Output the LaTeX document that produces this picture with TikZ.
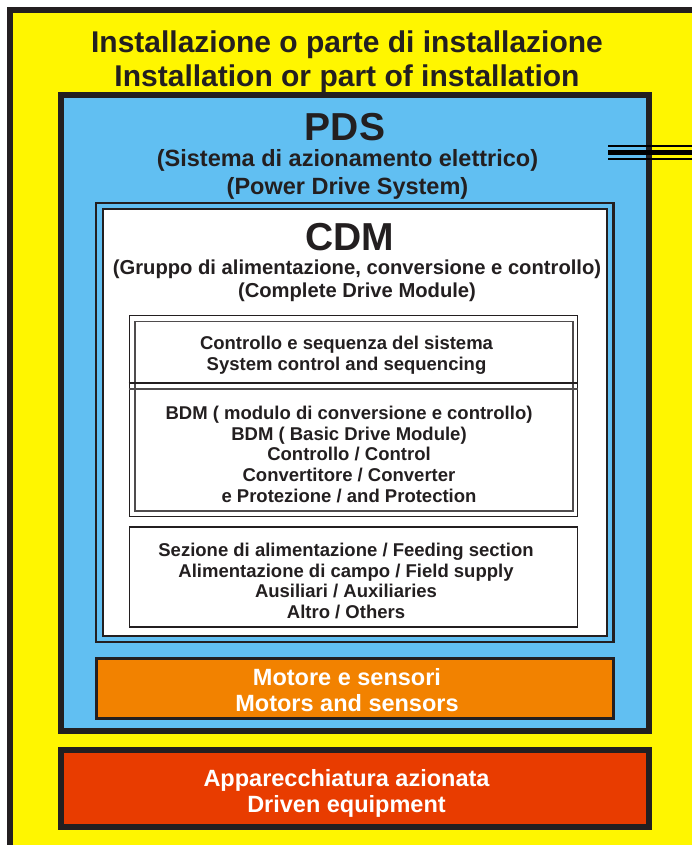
\documentclass[tikz,border=0pt]{standalone}
\usepackage{fontspec}
\setmainfont{Liberation Sans}
\definecolor{ink}{RGB}{35,31,32}
\definecolor{plantyellow}{RGB}{255,246,0}
\definecolor{pdsblue}{RGB}{97,191,242}
\definecolor{motororange}{RGB}{242,130,0}
\definecolor{drivenred}{RGB}{232,60,0}

\begin{document}
\begin{tikzpicture}[
			x=1pt,y=-1pt,
			frame/.style={
				draw=ink,
				rectangle,
				inner sep=0pt
			},
			heavybox/.style={
				frame,
				line width=6.4pt
			},
			thinbox/.style={
				frame,
				line width=2pt
			},
			label/.style={
				align=center,
				anchor=base,
				inner sep=0pt,
				text=ink
			},
			title/.style={
				label,
				font=\bfseries\fontsize{30}{34.5}\selectfont
			},
			bighead/.style={
				label,
				font=\bfseries\fontsize{39}{44}\selectfont
			},
			subhead/.style={
				label,
				font=\bfseries\fontsize{23.5}{28}\selectfont
			},
			cdmhead/.style={
				label,
				font=\bfseries\fontsize{20.2}{23}\selectfont
			},
			smalltext/.style={
				label,
				font=\bfseries\fontsize{18.5}{20.7}\selectfont
			},
			boxtext/.style={
				label,
				text=white,
				font=\bfseries\fontsize{23.5}{26}\selectfont
			},
			bus/.style={
				draw=black,
				line cap=butt
			}
			]
			
			\useasboundingbox (0,0) rectangle (692,845);
			\clip (0,0) rectangle (692,845);
			
			% Installation
			\node[frame,line width=5.7pt,fill=plantyellow,
			minimum width=710pt,minimum height=870pt] (install) at (364.9,444.9) {};
			
			% PDS
			\node[heavybox,fill=pdsblue,
			minimum width=587.5pt,minimum height=635.5pt] (pds) at (355,413) {};
			
			% CDM (double frame)
			\node[frame,line width=2.2pt,fill=pdsblue,
			minimum width=517.5pt,minimum height=439pt] (cdm) at (354.75,422.5) {};
			\node[thinbox,fill=white,
			minimum width=504pt,minimum height=427pt] (cdminner) at (355,422.5) {};
			
			% Control and BDM
			\node[frame,line width=1.8pt,
			minimum width=448pt,minimum height=201pt] (bdm) at (353.5,416) {};
			\node[frame,line width=1.5pt,draw=ink!80,
			minimum width=438pt,minimum height=189.5pt] (bdminner) at (354,416.25) {};
			\draw[line width=1.5pt,draw=ink] (bdm.west |- 0,383) -- (bdm.east |- 0,383);
			\draw[line width=1.5pt,draw=ink!80] (bdm.west |- 0,389) -- (bdm.east |- 0,389);
			
			% Feeding section
			\node[frame,line width=1.8pt,
			minimum width=448pt,minimum height=100pt] (feed) at (353.5,577) {};
			
			% Motors
			\node[frame,line width=3pt,fill=motororange,
			minimum width=517pt,minimum height=60pt] (motor) at (355,688.5) {};
			
			% Driven equipment
			\node[heavybox,fill=drivenred,
			minimum width=587.7pt,minimum height=76.7pt] (driven) at (354.85,788.35) {};
			
			% Supply bus
			\coordinate (busin) at (608,152.5);
			\coordinate (busout) at (700,152.5);
			\draw[bus,line width=2pt] ([yshift=6.5pt]busin) -- ([yshift=6.5pt]busout);
			\draw[bus,line width=5pt] (busin) -- (busout);
			\draw[bus,line width=2pt] ([yshift=-6.5pt]busin) -- ([yshift=-6.5pt]busout);
			
			% Texts (anchored at the baseline of the last line)
			\node[title] (installtext) at (347,87) {%
				Installazione o parte di installazione\\
				Installation or part of installation};
			
			\node[bighead] (pdstitle) at (345,141) {PDS};
			\node[subhead] (pdstext) at (347.5,194) {%
				(Sistema di azionamento elettrico)\\
				(Power Drive System)};
			
			\node[bighead] (cdmtitle) at (350,250) {CDM};
			\node[cdmhead] (cdmtext) at (357,297) {%
				(Gruppo di alimentazione, conversione e controllo)\\
				(Complete Drive Module)};
			
			\node[smalltext] (ctrltext) at (346.5,370.5) {%
				Controllo e sequenza del sistema\\
				System control and sequencing};
			
			\node[smalltext] (bdmtext) at (349,502.3) {%
				BDM ( modulo di conversione e controllo)\\
				BDM ( Basic Drive Module)\\
				Controllo / Control\\
				Convertitore / Converter\\
				e Protezione / and Protection};
			
			\node[smalltext] (feedtext) at (346,618.6) {%
				Sezione di alimentazione / Feeding section\\
				Alimentazione di campo / Field supply\\
				Ausiliari / Auxiliaries\\
				Altro / Others};
			
			\node[boxtext] (motortext) at (347,711) {%
				Motore e sensori\\
				Motors and sensors};
			
			\node[boxtext] (driventext) at (346.5,812.5) {%
				Apparecchiatura azionata\\
				Driven equipment};
			
		\end{tikzpicture}
\end{document}
